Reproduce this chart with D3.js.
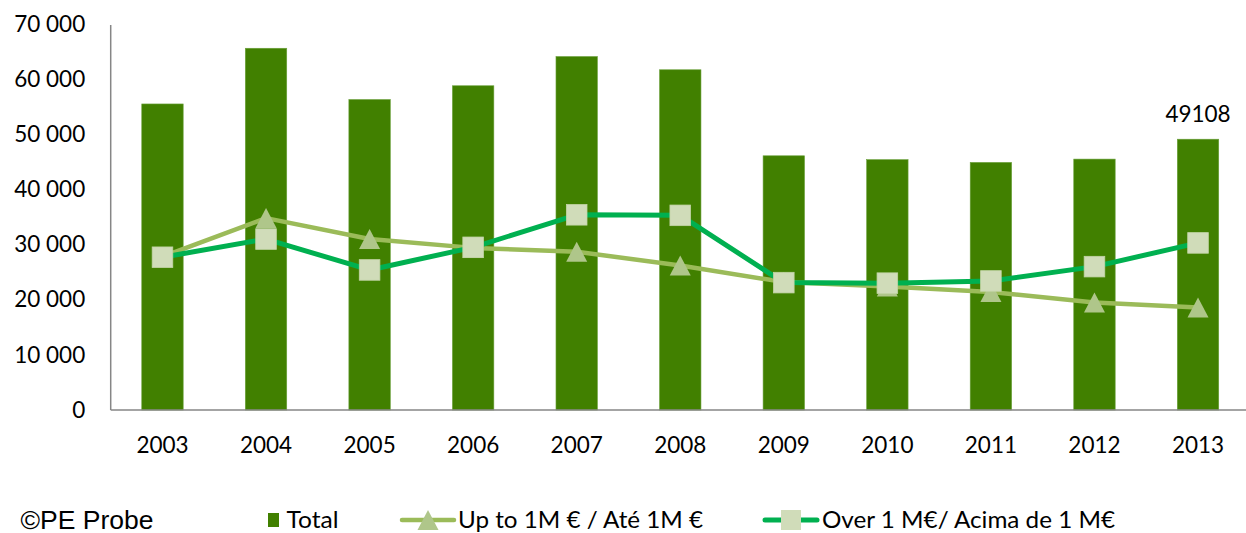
<!DOCTYPE html>
<html><head><meta charset="utf-8">
<script src="https://cdn.jsdelivr.net/npm/d3@7"></script>
<style>body{margin:0;background:#fff}svg{display:block}</style>
</head><body>
<svg id="c" width="1246" height="533"></svg>
<script>
const years = ["2003","2004","2005","2006","2007","2008","2009","2010","2011","2012","2013"];
const total = [55500,65600,56300,58800,64100,61700,46100,45400,44900,45500,49108];
const upTo1M = [27800,34800,31000,29400,28700,26200,23200,22400,21400,19500,18600];
const over1M = [27700,31000,25400,29500,35400,35300,23100,23000,23400,26000,30300];
const yTicks = [0,10000,20000,30000,40000,50000,60000,70000];
const legendLabels = ["Total","Up to 1M € / Até 1M €","Over 1 M€/ Acima de 1 M€"];
const credit = "©PE Probe";

const svg = d3.select("#c");
const L = 110.7, R = 1249.8, T = 24, B = 410;
const x = d3.scaleBand().domain(years).range([L,R]).paddingInner(0.6).paddingOuter(0.3);
const y = d3.scaleLinear().domain([0,70000]).range([B,T]);
const cx = d => x(d) + x.bandwidth()/2;
const font = "Lato, 'Open Sans', sans-serif";
const fs = 22.5;
const fmt = v => d3.format(",")(v).replace(/,/g," ");

// y axis labels
const ya = svg.append("g").attr("transform",`translate(${L},0)`)
  .call(d3.axisLeft(y).tickValues(yTicks).tickFormat(fmt).tickSize(0).tickPadding(25.5));
ya.select(".domain").remove();
ya.selectAll("text").attr("font-family",font).attr("font-size",fs).attr("fill","#000");

// bars
svg.append("g").selectAll("rect").data(years).join("rect")
  .attr("x",d=>x(d)).attr("width",x.bandwidth())
  .attr("y",(d,i)=>y(total[i])).attr("height",(d,i)=>B-y(total[i]))
  .attr("fill","#418000").attr("stroke","#6aa03a").attr("stroke-width",0.6);

// axes lines
svg.append("line").attr("x1",L).attr("x2",L).attr("y1",T+1).attr("y2",B)
  .attr("stroke","#868686").attr("stroke-width",1.5);
svg.append("line").attr("x1",L).attr("x2",1246).attr("y1",B).attr("y2",B)
  .attr("stroke","#868686").attr("stroke-width",1.5);

// x labels
const xa = svg.append("g").attr("transform",`translate(0,${B})`)
  .call(d3.axisBottom(x).tickSize(0).tickPadding(27));
xa.select(".domain").remove();
xa.selectAll("text").attr("font-family",font).attr("font-size",fs).attr("fill","#000");

const line = d3.line().x((d,i)=>cx(years[i])).y(d=>y(d));
const triPath = "M0,-10L10.5,10L-10.5,10Z";

// up to 1M
svg.append("path").datum(upTo1M).attr("d",line).attr("fill","none")
  .attr("stroke","#9bbb59").attr("stroke-width",4.5).attr("stroke-linejoin","round");
svg.append("g").selectAll("path").data(upTo1M).join("path")
  .attr("d",triPath).attr("transform",(d,i)=>`translate(${cx(years[i])},${y(d)})`)
  .attr("fill","#afc68a");

// over 1M
svg.append("path").datum(over1M).attr("d",line).attr("fill","none")
  .attr("stroke","#00b050").attr("stroke-width",5).attr("stroke-linejoin","round");
svg.append("g").selectAll("rect").data(over1M).join("rect")
  .attr("x",(d,i)=>cx(years[i])-10.3).attr("y",d=>y(d)-10.3)
  .attr("width",20.6).attr("height",20.6)
  .attr("fill","#d0dcb9").attr("stroke","#c3d4a6").attr("stroke-width",0.8);

// data label
svg.append("text").attr("x",cx("2013")).attr("y",y(total[10])-17.5)
  .attr("text-anchor","middle").attr("font-family",font).attr("font-size",fs).text(total[10]);

// legend
const ly = 520;
svg.append("text").attr("x",20.5).attr("y",529).attr("font-family","'Liberation Sans', Arial, sans-serif")
  .attr("font-size",25).attr("textLength",133).attr("lengthAdjust","spacingAndGlyphs").text(credit);
svg.append("rect").attr("x",268).attr("y",ly-7).attr("width",11).attr("height",14).attr("fill","#418000");
svg.append("text").attr("x",286.5).attr("y",ly+8).attr("font-family",font).attr("font-size",24)
  .attr("textLength",52).attr("lengthAdjust","spacingAndGlyphs").text(legendLabels[0]);
svg.append("line").attr("x1",402).attr("x2",454).attr("y1",ly).attr("y2",ly)
  .attr("stroke","#9bbb59").attr("stroke-width",4.5).attr("stroke-linecap","round");
svg.append("path").attr("d",triPath).attr("transform",`translate(428,${ly})`).attr("fill","#afc68a");
svg.append("text").attr("x",458).attr("y",ly+8).attr("font-family",font).attr("font-size",24)
  .attr("textLength",245).attr("lengthAdjust","spacingAndGlyphs").text(legendLabels[1]);
svg.append("line").attr("x1",765).attr("x2",817).attr("y1",ly).attr("y2",ly)
  .attr("stroke","#00b050").attr("stroke-width",5).attr("stroke-linecap","round");
svg.append("rect").attr("x",781).attr("y",ly-10).attr("width",20).attr("height",20)
  .attr("fill","#d0dcb9");
svg.append("text").attr("x",822).attr("y",ly+8).attr("font-family",font).attr("font-size",24)
  .attr("textLength",293).attr("lengthAdjust","spacingAndGlyphs").text(legendLabels[2]);
</script>
</body></html>
